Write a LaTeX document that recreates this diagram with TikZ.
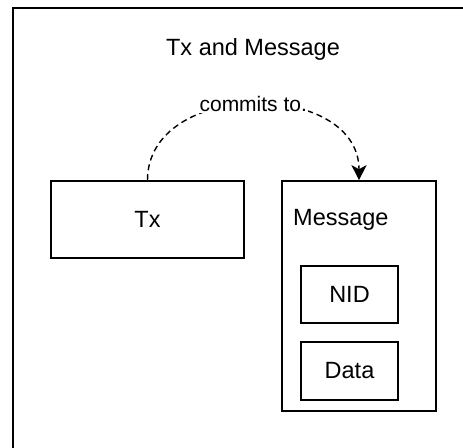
\documentclass[tikz,border=0pt]{standalone}
\usepackage{fontspec}
\setmainfont{Liberation Sans}
\usetikzlibrary{arrows.meta}
\tikzset{
  box/.style={draw,line width=1.6pt,rectangle,inner sep=0pt},
  lbl/.style={font=\fontsize{23.5}{28}\selectfont},
  commit/.style={line width=1.4pt,dash pattern=on 6pt off 4pt,
    -{Stealth[length=15pt,width=15pt,inset=4pt]}}
}
\begin{document}
\begin{tikzpicture}[x=1pt,y=-1pt]
            \useasboundingbox (0,0) rectangle (463,447);
            \clip (0,0) rectangle (463,447);
            % frame
            \draw[line width=1.6pt] (13,8) rectangle (490,480);
            \node[lbl] (title) at (253,49) {Tx and Message};
            \node[box,lbl,minimum width=193pt,minimum height=77pt]
            (tx) at (147.5,219.5) {Tx};
            \node[box,minimum width=154pt,minimum height=230pt]
            (msg) at (359,296) {};
            \node[lbl,anchor=west,inner sep=1pt] (msglbl) at (292,220) {Message};
            \node[box,lbl,minimum width=97pt,minimum height=57pt]
            (nid) at (349.5,294.5) {NID};
            \node[box,lbl,minimum width=97pt,minimum height=58pt]
            (data) at (349.5,371) {Data};
            % edge
            \draw[commit] (tx.north) .. controls +(0,-101) and +(0,-101)
            .. (msg.north) node[pos=0.5,fill=white,inner sep=1pt,
            font=\fontsize{21}{25}\selectfont] {commits to.};
    \end{tikzpicture}
\end{document}
